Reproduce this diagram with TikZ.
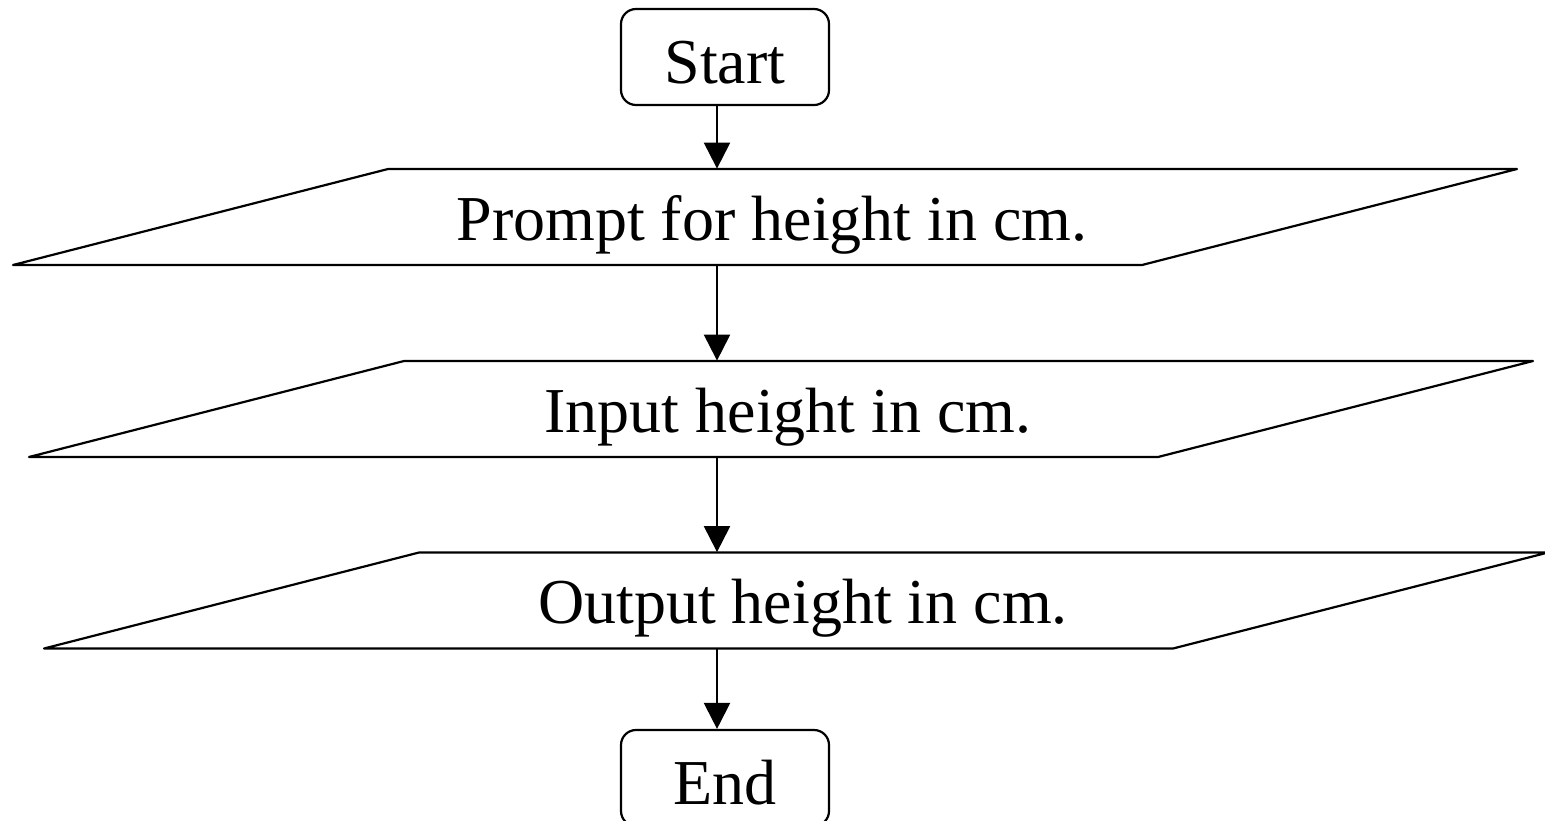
\documentclass[tikz,border=0pt]{standalone}
\usepackage{fontspec}
\setmainfont{Liberation Serif}
\usetikzlibrary{arrows.meta,calc}

\tikzset{
  term/.style={draw, line width=1.1pt, rounded corners=7.5pt,
    minimum width=104pt, minimum height=48pt, inner sep=0pt,
    text height=37pt, text depth=11pt,
    font=\fontsize{32pt}{38pt}\selectfont},
  io/.style={minimum height=48pt, inner sep=0pt,
    text height=35.5pt, text depth=12.5pt,
    font=\fontsize{32pt}{38pt}\selectfont},
  ioline/.style={draw, line width=1.1pt, line join=round},
  flow/.style={draw, line width=1.1pt,
    -{Triangle[width=13pt,length=13pt]}}
}

\begin{document}
\begin{tikzpicture}[x=0.5pt,y=-0.5pt]
  \useasboundingbox (0,0) rectangle (1545,820);

  % terminals
  \node[term] (start) at (725,57) {Start};
  \node[term] (end)   at (725,778) {End};

  % input/output steps (node centred on the label)
  \node[io] (prompt) at (772,217) {Prompt for height in cm.};
  \node[io] (input)  at (788,409) {Input height in cm.};
  \node[io] (output) at (803,600.5) {Output height in cm.};

  % parallelogram outlines around each step
  \foreach \n in {prompt,input,output}
    \draw[ioline] ($(\n.center)+(-759,48)$) -- ($(\n.center)+(-384,-48)$)
      -- ($(\n.center)+(745,-48)$) -- ($(\n.center)+(370,48)$) -- cycle;

  % vertical flow line
  \coordinate (ax) at (717,0);
  \draw[flow] (start.south -| ax) -- (prompt.north -| ax);
  \draw[flow] (prompt.south -| ax) -- (input.north -| ax);
  \draw[flow] (input.south -| ax) -- (output.north -| ax);
  \draw[flow] (output.south -| ax) -- (end.north -| ax);
\end{tikzpicture}
\end{document}
